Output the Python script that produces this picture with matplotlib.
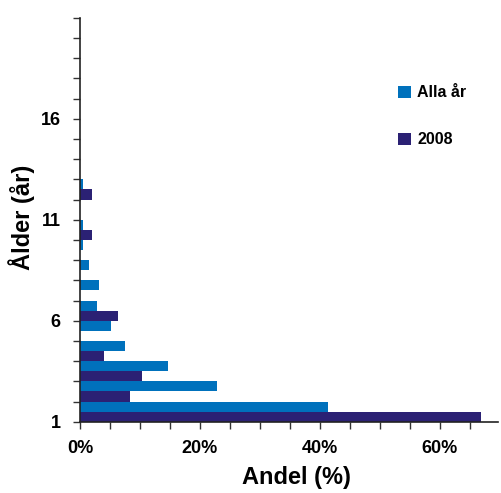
import numpy as np
import matplotlib
matplotlib.use("Agg")
from matplotlib import pyplot as plt

plt.rcParams['font.family'] = ['Liberation Sans', 'DejaVu Sans']

# ålder 1..20, andel (%)
alder = list(range(1, 21))
alla_ar = [41.3, 22.8, 14.6, 7.45, 5.1, 2.8, 3.1, 1.5, 0.45, 0.45,
           0, 0.45, 0, 0, 0, 0, 0, 0, 0, 0]
ar_2008 = [66.8, 8.3, 10.3, 3.95, 0, 6.3, 0, 0, 0, 1.95,
           0, 1.95, 0, 0, 0, 0, 0, 0, 0, 0]
ytick_labels = ['1', '6', '11', '16']

c_alla = '#0071BC'
c_2008 = '#2B2174'

fig = plt.figure(figsize=(5.01, 4.93), dpi=100)
ax = fig.add_axes([0.1597, 0.1446, 0.8343, 0.8195])

pos = np.arange(len(alder))
ax.barh(pos + 0.75, alla_ar, height=0.5, color=c_alla, label='Alla år')
ax.barh(pos + 0.25, ar_2008, height=0.5, color=c_2008, label='2008')

ax.set_xlim(0, 69.7)
ax.set_ylim(0, len(alder))
ax.set_xticks([0, 20, 40, 60])
ax.set_xticklabels(['0%', '20%', '40%', '60%'])
ax.set_xticks(np.arange(0, 70, 5), minor=True)
ax.set_yticks([0, 5, 10, 15])
ax.set_yticklabels(ytick_labels)
ax.set_yticks(np.arange(0, 21, 1), minor=True)
ax.tick_params(axis='both', which='both', length=5, width=1, direction='out',
               labelsize=13, color='#333333')
ax.tick_params(axis='x', pad=8)
ax.tick_params(axis='y', pad=9)
for lab in ax.get_xticklabels() + ax.get_yticklabels():
    lab.set_fontweight('bold')

for s in ['top', 'right']:
    ax.spines[s].set_visible(False)
for s in ['left', 'bottom']:
    ax.spines[s].set_linewidth(1.2)
    ax.spines[s].set_color('#222222')

ax.set_xlabel('Andel (%)', fontsize=17, fontweight='bold', va='center')
ax.xaxis.set_label_coords(0.517, -0.139)
ax.set_ylabel('Ålder (år)', fontsize=17, fontweight='bold', va='center')
ax.yaxis.set_label_coords(-0.139, 0.507)

leg = ax.legend(loc='upper left', bbox_to_anchor=(0.726, 0.868), frameon=False,
                fontsize=11.5, handlelength=0.8, handleheight=0.8,
                labelspacing=2.0, handletextpad=0.4)
for t in leg.get_texts():
    t.set_fontweight('bold')

fig.savefig('out.png', dpi=100)
